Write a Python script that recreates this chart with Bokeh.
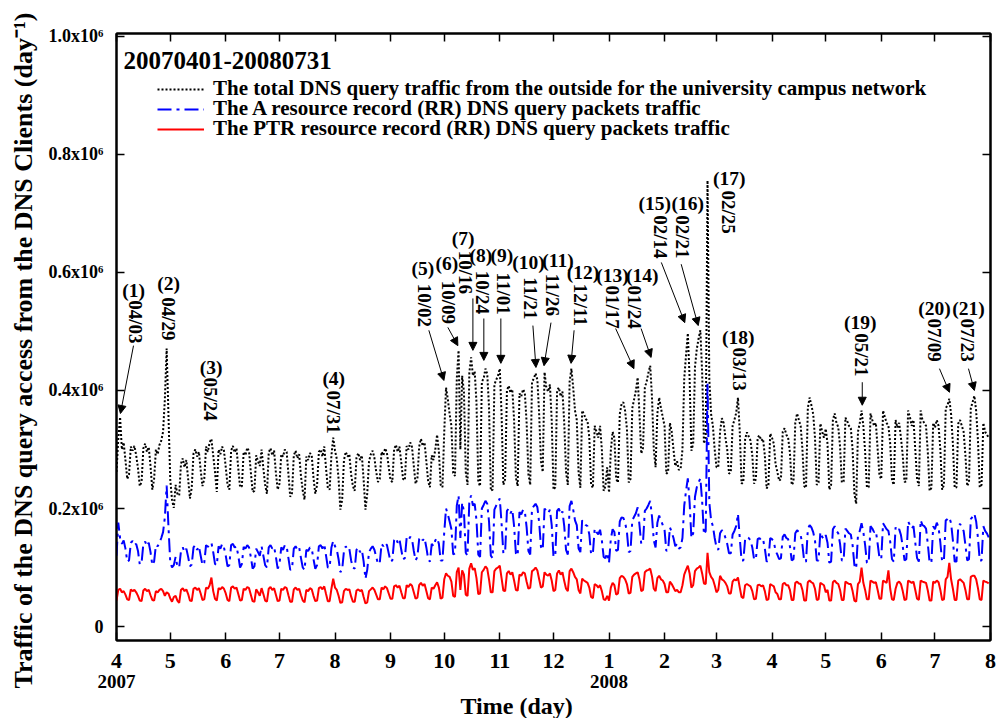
import numpy as np
from bokeh.plotting import figure
from bokeh.models import (Range1d, FixedTicker, LinearAxis, Legend, LegendItem,
                          Label, Arrow, NormalHead, ColumnDataSource, Title)
from bokeh.core.properties import value
from bokeh.embed import file_html
from bokeh.resources import INLINE

# ---------------------------------------------------------------------------
# Daily DNS query counts, 2007-04-01 .. 2008-07-31, in thousands per day.
# One row per week, Sunday .. Saturday (2007-04-01 was a Sunday).
# ---------------------------------------------------------------------------
total_rows = [
    [262, 318, 355, 300, 312, 282, 250],
    [258, 305, 298, 306, 290, 268, 238],
    [245, 302, 310, 296, 304, 272, 232],
    [250, 300, 292, 308, 315, 330, 385],
    [471, 360, 250, 215, 201, 240, 225],
    [222, 276, 285, 270, 282, 250, 217],
    [235, 293, 300, 288, 296, 265, 238],
    [250, 305, 296, 312, 318, 290, 262],
    [228, 300, 292, 305, 298, 270, 240],
    [232, 298, 306, 295, 302, 268, 236],
    [238, 296, 290, 303, 297, 262, 228],
    [230, 290, 280, 272, 300, 268, 240],
    [225, 295, 302, 290, 298, 260, 232],
    [242, 292, 288, 300, 296, 258, 220],
    [226, 290, 298, 285, 292, 255, 230],
    [215, 288, 282, 294, 290, 252, 225],
    [240, 296, 300, 288, 305, 268, 235],
    [232, 290, 320, 298, 284, 250, 198],
    [215, 282, 296, 288, 292, 258, 238],
    [230, 286, 294, 282, 290, 248, 198],
    [225, 280, 292, 298, 286, 262, 245],
    [250, 296, 290, 302, 294, 270, 248],
    [245, 300, 308, 296, 305, 278, 250],
    [248, 306, 300, 312, 304, 272, 242],
    [250, 305, 318, 306, 312, 280, 246],
    [236, 290, 282, 300, 325, 296, 240],
    [236, 330, 405, 385, 360, 340, 260],
    [255, 420, 468, 300, 425, 398, 262],
    [240, 430, 456, 425, 432, 380, 245],
    [238, 415, 420, 437, 428, 372, 230],
    [232, 410, 418, 425, 437, 360, 240],
    [250, 400, 408, 396, 402, 350, 252],
    [238, 395, 390, 402, 396, 345, 258],
    [240, 415, 420, 429, 418, 360, 280],
    [262, 431, 405, 398, 410, 350, 232],
    [236, 400, 405, 390, 398, 345, 262],
    [240, 415, 437, 405, 366, 350, 261],
    [235, 366, 360, 352, 348, 320, 240],
    [235, 340, 330, 320, 340, 300, 230],
    [238, 270, 227, 298, 330, 320, 250],
    [244, 360, 377, 380, 365, 335, 244],
    [250, 370, 385, 400, 422, 360, 293],
    [303, 405, 415, 430, 442, 388, 300],
    [270, 361, 388, 370, 355, 340, 259],
    [262, 345, 330, 300, 272, 280, 265],
    [268, 300, 420, 460, 497, 420, 298],
    [310, 440, 470, 488, 502, 430, 310],
    [320, 756, 420, 360, 340, 300, 270],
    [270, 330, 353, 345, 320, 300, 259],
    [262, 340, 350, 362, 388, 330, 242],
    [245, 318, 329, 322, 315, 290, 242],
    [250, 320, 324, 315, 318, 290, 234],
    [240, 327, 320, 310, 275, 262, 247],
    [250, 330, 336, 325, 320, 295, 240],
    [245, 345, 361, 350, 340, 300, 238],
    [235, 370, 388, 375, 360, 320, 240],
    [244, 344, 330, 320, 335, 310, 232],
    [240, 350, 361, 345, 338, 305, 244],
    [246, 354, 348, 340, 336, 300, 225],
    [208, 330, 345, 366, 340, 296, 236],
    [236, 361, 350, 340, 345, 300, 256],
    [250, 366, 355, 345, 340, 310, 248],
    [240, 350, 337, 345, 320, 290, 245],
    [246, 366, 355, 340, 350, 300, 250],
    [238, 366, 350, 345, 340, 295, 230],
    [235, 345, 337, 350, 340, 300, 232],
    [240, 370, 375, 386, 360, 310, 235],
    [236, 344, 350, 340, 330, 290, 238],
    [245, 370, 380, 391, 365, 315, 236],
    [240, 345, 330, 325, 320],
]

a_rr_rows = [
    [120, 176, 150, 140, 146, 132, 110],
    [112, 142, 145, 138, 140, 128, 105],
    [108, 140, 144, 136, 142, 126, 104],
    [110, 138, 136, 142, 150, 160, 185],
    [239, 170, 110, 100, 104, 118, 102],
    [100, 128, 134, 126, 132, 118, 102],
    [105, 134, 138, 130, 136, 120, 104],
    [108, 138, 135, 140, 142, 126, 106],
    [104, 136, 132, 140, 134, 120, 102],
    [104, 138, 140, 134, 136, 120, 100],
    [106, 135, 132, 138, 134, 118, 98],
    [102, 132, 126, 120, 136, 120, 104],
    [100, 134, 138, 132, 135, 118, 98],
    [106, 134, 130, 138, 136, 116, 96],
    [98, 132, 136, 130, 134, 116, 100],
    [96, 130, 128, 134, 132, 114, 98],
    [104, 136, 138, 132, 140, 120, 100],
    [100, 134, 145, 136, 130, 114, 92],
    [96, 128, 136, 130, 132, 112, 100],
    [98, 130, 134, 126, 130, 110, 81],
    [96, 126, 132, 136, 130, 118, 106],
    [108, 140, 136, 142, 138, 124, 110],
    [112, 146, 150, 142, 148, 130, 114],
    [116, 150, 146, 152, 148, 128, 112],
    [118, 148, 152, 146, 150, 134, 115],
    [110, 140, 136, 146, 150, 140, 112],
    [112, 160, 200, 190, 178, 165, 122],
    [124, 205, 222, 150, 210, 195, 125],
    [120, 212, 222, 205, 208, 180, 122],
    [118, 200, 206, 213, 208, 178, 120],
    [116, 198, 205, 210, 217, 175, 124],
    [126, 196, 200, 192, 198, 170, 124],
    [120, 194, 190, 198, 195, 168, 128],
    [122, 200, 204, 208, 202, 176, 135],
    [130, 200, 196, 192, 198, 172, 118],
    [120, 196, 200, 190, 195, 170, 130],
    [122, 204, 213, 198, 180, 172, 132],
    [126, 180, 176, 172, 170, 156, 122],
    [124, 166, 160, 156, 164, 146, 118],
    [116, 125, 108, 148, 165, 160, 128],
    [130, 178, 185, 184, 176, 160, 126],
    [128, 180, 186, 192, 202, 172, 140],
    [144, 196, 200, 206, 213, 186, 146],
    [134, 176, 188, 180, 172, 164, 128],
    [130, 168, 160, 150, 136, 140, 132],
    [134, 150, 205, 230, 251, 210, 150],
    [158, 220, 236, 244, 251, 212, 156],
    [162, 412, 210, 180, 170, 150, 134],
    [130, 158, 163, 160, 150, 140, 124],
    [124, 156, 162, 170, 191, 150, 112],
    [112, 148, 152, 150, 146, 134, 114],
    [114, 148, 150, 146, 148, 132, 110],
    [112, 150, 148, 144, 128, 122, 114],
    [116, 152, 156, 150, 148, 136, 112],
    [114, 158, 163, 160, 155, 138, 110],
    [110, 165, 172, 168, 160, 146, 112],
    [112, 160, 152, 148, 155, 142, 108],
    [110, 165, 170, 162, 158, 140, 112],
    [112, 166, 162, 158, 156, 138, 104],
    [98, 155, 162, 175, 160, 138, 108],
    [108, 170, 166, 160, 162, 140, 116],
    [114, 175, 170, 165, 162, 144, 114],
    [110, 168, 162, 165, 155, 136, 112],
    [114, 178, 172, 166, 170, 142, 116],
    [110, 180, 172, 170, 166, 140, 108],
    [108, 170, 165, 176, 168, 142, 110],
    [112, 180, 182, 185, 175, 146, 110],
    [110, 170, 174, 168, 162, 138, 112],
    [114, 182, 186, 191, 178, 150, 112],
    [112, 170, 162, 158, 151],
]

ptr_rows = [
    [44, 62, 64, 58, 60, 54, 46],
    [45, 63, 60, 62, 58, 52, 44],
    [43, 61, 64, 60, 62, 53, 45],
    [44, 60, 58, 62, 64, 60, 52],
    [58, 56, 48, 42, 50, 52, 44],
    [40, 62, 65, 60, 63, 55, 44],
    [43, 64, 66, 62, 65, 56, 45],
    [46, 66, 64, 70, 83, 60, 47],
    [44, 65, 63, 67, 64, 56, 45],
    [43, 66, 68, 64, 66, 55, 44],
    [45, 64, 62, 67, 65, 54, 43],
    [42, 63, 58, 52, 65, 55, 44],
    [42, 64, 67, 62, 65, 54, 43],
    [44, 64, 62, 67, 65, 53, 42],
    [42, 63, 66, 62, 64, 53, 44],
    [41, 62, 60, 65, 63, 52, 43],
    [44, 65, 67, 63, 68, 55, 43],
    [43, 64, 81, 66, 62, 52, 40],
    [41, 60, 64, 62, 63, 51, 42],
    [42, 61, 63, 60, 62, 50, 39],
    [41, 60, 63, 66, 62, 54, 46],
    [46, 66, 63, 68, 65, 56, 47],
    [47, 68, 70, 66, 69, 58, 48],
    [48, 70, 67, 72, 69, 58, 47],
    [49, 70, 74, 69, 72, 60, 48],
    [46, 66, 64, 70, 75, 66, 47],
    [49, 80, 90, 86, 84, 76, 52],
    [50, 92, 100, 62, 95, 88, 54],
    [52, 98, 107, 96, 99, 82, 55],
    [56, 92, 96, 102, 98, 80, 58],
    [58, 94, 98, 100, 103, 82, 61],
    [60, 90, 94, 88, 92, 78, 62],
    [61, 88, 86, 92, 90, 76, 64],
    [66, 94, 96, 100, 95, 80, 66],
    [68, 92, 88, 86, 90, 78, 60],
    [62, 90, 95, 88, 92, 77, 64],
    [60, 94, 98, 92, 84, 80, 62],
    [56, 81, 78, 76, 74, 66, 50],
    [48, 72, 70, 66, 70, 60, 46],
    [45, 52, 44, 66, 74, 70, 54],
    [56, 82, 86, 84, 80, 72, 56],
    [57, 84, 88, 90, 92, 80, 60],
    [62, 92, 95, 96, 98, 85, 64],
    [60, 82, 86, 80, 78, 72, 58],
    [58, 76, 72, 66, 60, 62, 58],
    [58, 70, 88, 96, 103, 90, 66],
    [70, 94, 98, 100, 103, 90, 73],
    [72, 125, 92, 84, 80, 70, 58],
    [62, 86, 80, 78, 74, 68, 56],
    [56, 76, 80, 78, 83, 66, 50],
    [48, 70, 72, 70, 68, 60, 46],
    [47, 70, 71, 68, 70, 60, 45],
    [46, 72, 70, 68, 58, 55, 46],
    [46, 72, 74, 70, 70, 62, 45],
    [45, 74, 76, 73, 72, 62, 44],
    [44, 75, 78, 75, 73, 64, 45],
    [46, 74, 72, 70, 58, 62, 44],
    [44, 75, 78, 74, 72, 62, 45],
    [45, 76, 74, 72, 72, 60, 44],
    [42, 72, 76, 100, 74, 62, 46],
    [46, 78, 76, 74, 75, 62, 47],
    [47, 78, 76, 74, 95, 64, 46],
    [45, 64, 74, 76, 72, 60, 45],
    [46, 78, 76, 74, 76, 62, 47],
    [45, 78, 76, 75, 74, 61, 44],
    [44, 76, 74, 78, 75, 62, 45],
    [46, 80, 84, 108, 80, 64, 45],
    [45, 78, 80, 77, 74, 62, 46],
    [46, 84, 86, 86, 80, 65, 46],
    [45, 78, 76, 75, 73],
]

total_k = sum(total_rows, [])
a_rr_k = sum(a_rr_rows, [])
ptr_k = sum(ptr_rows, [])
day = list(range(len(total_k)))          # day offset from 2007-04-01

# month starts (day offsets from 2007-04-01) and their labels
month_start_day = [0, 30, 61, 91, 122, 153, 183, 214, 244, 275, 306, 335,
                   366, 396, 427, 457, 488]
month_label = ["4", "5", "6", "7", "8", "9", "10", "11", "12", "1", "2", "3",
               "4", "5", "6", "7", "8"]
year_day = [0, 275]
year_label = ["2007", "2008"]

y_tick_k = [0, 200, 400, 600, 800, 1000]
y_tick_label = ["0", "0.2x10\u2076", "0.4x10\u2076", "0.6x10\u2076",
                "0.8x10\u2076", "1.0x10\u2076"]

series_names = [
    "The total DNS query traffic from the outside for the university campus network",
    "The A resource record (RR) DNS query packets traffic",
    "The PTR resource record (RR) DNS query packets traffic",
]

# annotated events: number, date text, label position (day, thousands)
ev_num = ["(1)", "(2)", "(3)", "(4)", "(5)", "(6)", "(7)", "(8)", "(9)", "(10)",
          "(11)", "(12)", "(13)", "(14)", "(15)", "(16)", "(17)", "(18)",
          "(19)", "(20)", "(21)"]
ev_date = ["04/03", "04/29", "05/24", "07/31", "10/02", "10/09", "10/16",
           "10/24", "11/01", "11/21", "11/26", "12/11", "01/17", "01/24",
           "02/14", "02/21", "02/25", "03/13", "05/21", "07/09", "07/23"]
ev_num_x = [9.5, 29.1, 52.8, 121.3, 171.0, 184.5, 193.5, 203.5, 215.2, 230.0,
            246.5, 260.5, 277.0, 293.5, 300.5, 318.9, 342.1, 347.1, 415.3,
            456.7, 475.7]
ev_num_y = [569, 581, 439, 420, 607, 615, 658, 629, 629, 617, 620, 600, 595,
            595, 717, 717, 759, 490, 515, 539, 539]
ev_date_x = [10.6, 29.1, 52.5, 121.3, 172.2, 185.5, 195.1, 204.6, 216.0,
             231.4, 243.7, 258.8, 277.0, 289.5, 303.6, 315.8, 341.6, 347.7,
             415.9, 456.7, 475.1]
ev_date_top = [553, 558, 422, 400, 581, 586, 637, 603, 600, 592, 598, 581,
               578, 578, 697, 697, 739, 473, 497, 522, 522]
# arrows: start (below the date text) -> tip (at the peak)
arr_x0 = [9.5, 174.4, 185.0, 199.0, 205.1, 214.6, 232.5, 242.6, 255.5, 278.7,
          292.9, 304.2, 315.3, 416.4, 459.5, 475.7]
arr_y0 = [476, 502, 507, 556, 522, 522, 510, 515, 502, 505, 505, 617, 614,
          414, 437, 437]
arr_x1 = [2.2, 182.8, 190.6, 199.0, 205.1, 214.6, 234.2, 238.7, 253.8, 288.9,
          298.5, 317.3, 324.8, 416.4, 465.1, 479.0]
arr_y1 = [361, 417, 476, 468, 451, 446, 439, 442, 446, 437, 456, 515, 510,
          375, 397, 400]

FONT = "Liberation Serif"

p = figure(width=998, height=718, output_backend="svg", toolbar_location=None,
           x_range=Range1d(0, 488), y_range=Range1d(-23.7, 1005),
           x_axis_location=None, y_axis_location=None,
           min_border_left=116, min_border_right=8, min_border_top=33,
           min_border_bottom=78)
p.grid.visible = False
p.outline_line_color = "black"
p.outline_line_width = 2
p.background_fill_color = "white"
p.border_fill_color = "white"


def style_axis(ax, size=None, standoff=0):
    ax.axis_line_color = "black"
    ax.axis_line_width = 2
    ax.major_tick_in = 8
    ax.major_tick_out = 0
    ax.major_tick_line_width = 1.5
    ax.minor_tick_line_color = None
    ax.major_label_text_font = FONT
    ax.major_label_text_font_style = "bold"
    ax.major_label_text_color = "black"
    ax.major_label_standoff = standoff
    if size:
        ax.major_label_text_font_size = size


# bottom axis: month numbers
xb = LinearAxis(ticker=FixedTicker(ticks=month_start_day),
                major_label_overrides={d: l for d, l in zip(month_start_day, month_label)})
style_axis(xb, "22px", 13)
p.add_layout(xb, "below")

# second row under the months: the years
xy = LinearAxis(ticker=FixedTicker(ticks=year_day),
                major_label_overrides={d: l for d, l in zip(year_day, year_label)})
style_axis(xy, "19px", 4)
xy.axis_line_color = None
xy.major_tick_line_color = None
p.add_layout(xy, "below")

p.add_layout(Title(text="Time (day)", align="left", offset=344, standoff=0,
                   text_font=FONT, text_font_style="bold", text_font_size="24px",
                   text_color="black"), "below")

# top axis: ticks only
xt = LinearAxis(ticker=FixedTicker(ticks=month_start_day),
                major_label_overrides={d: "" for d in month_start_day})
style_axis(xt, "1px", 0)
p.add_layout(xt, "above")

# left axis
yl = LinearAxis(ticker=FixedTicker(ticks=y_tick_k),
                major_label_overrides={t: l for t, l in zip(y_tick_k, y_tick_label)})
style_axis(yl, "18px", 13)
p.add_layout(yl, "left")

p.add_layout(Title(text="Traffic of the DNS query access from the DNS Clients (day\u207b\u00b9)",
                   align="left", offset=-48, vertical_align="middle", standoff=13,
                   text_font=FONT, text_font_style="bold", text_font_size="26px",
                   text_color="black"), "left")

# right axis: ticks only
yr = LinearAxis(ticker=FixedTicker(ticks=y_tick_k),
                major_label_overrides={t: "" for t in y_tick_k})
style_axis(yr, "1px", 0)
p.add_layout(yr, "right")

r_total = p.line(day, total_k, line_color="black", line_width=2, line_dash="2 2")
r_a = p.line(day, a_rr_k, line_color="blue", line_width=2, line_dash="14 5 3 5")
r_ptr = p.line(day, ptr_k, line_color="red", line_width=2)

# one single-row legend per series so the rows sit 20 px apart
legend_y = [539, 519, 499]
for name, rend, ly in zip(series_names, [r_total, r_a, r_ptr], legend_y):
    p.add_layout(Legend(
        items=[LegendItem(label=name, renderers=[rend])],
        location=(41, ly), padding=0, spacing=0, margin=0, glyph_width=47,
        glyph_height=20, label_height=20, label_standoff=9,
        label_text_font=FONT, label_text_font_style="bold",
        label_text_font_size="21px", label_text_color="black",
        border_line_color=None, background_fill_alpha=0))

p.add_layout(Label(x=3.9, y=959, text="20070401-20080731", text_font=FONT,
                   text_font_style="bold", text_font_size="25px",
                   text_baseline="middle", text_align="left", text_color="black"))

# event annotations
p.text(x=ev_num_x, y=ev_num_y, text=ev_num, text_font=value(FONT),
       text_font_style="bold", text_font_size="19.5px", text_align="center",
       text_baseline="middle", text_color="black")
p.text(x=ev_date_x, y=ev_date_top, text=ev_date, angle=-np.pi / 2,
       text_font=value(FONT), text_font_style="bold", text_font_size="19px",
       text_align="left", text_baseline="middle", text_color="black")
arr_src = ColumnDataSource(dict(x0=arr_x0, y0=arr_y0, x1=arr_x1, y1=arr_y1))
p.add_layout(Arrow(end=NormalHead(size=8, fill_color="black", line_color="black",
                                  line_width=1),
                   x_start="x0", y_start="y0", x_end="x1", y_end="y1",
                   source=arr_src, line_width=1, line_color="black"))

open("out.html", "w").write(file_html(p, INLINE))
